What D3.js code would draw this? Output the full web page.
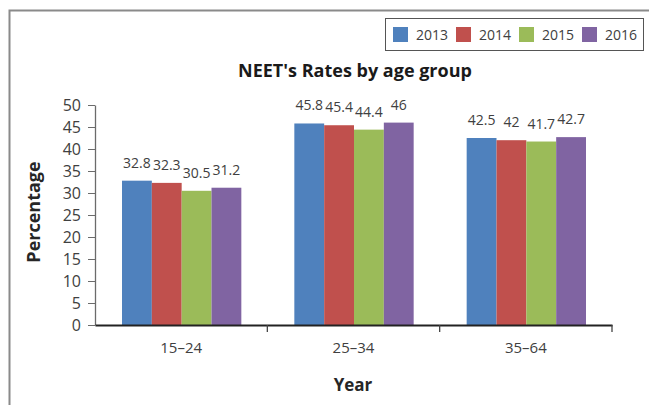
<!DOCTYPE html>
<html>
<head>
<meta charset="utf-8">
<script src="https://cdn.jsdelivr.net/npm/d3@7"></script>
<style>
  body { margin: 0; background: #fff; }
  svg { display: block; font-family: "Open Sans", sans-serif; }
</style>
</head>
<body>
<svg id="chart" width="649" height="405"></svg>
<script>
// data
const ageGroups = ['15\u201324', '25\u201334', '35\u201364'];
const years = ['2013', '2014', '2015', '2016'];
const rates2013 = [32.8, 45.8, 42.5];
const rates2014 = [32.3, 45.4, 42];
const rates2015 = [30.5, 44.4, 41.7];
const rates2016 = [31.2, 46, 42.7];
const yTicks = [0, 5, 10, 15, 20, 25, 30, 35, 40, 45, 50];

const series = [rates2013, rates2014, rates2015, rates2016];
const colors = d3.scaleOrdinal().domain(years)
    .range(['#4F81BD', '#C0504D', '#9BBB59', '#8064A2']);

const svg = d3.select('#chart');
const textColor = '#404040';
const font = '"Open Sans", sans-serif';

// outer frame (only top + left edge visible in the crop)
svg.append('path')
    .attr('d', 'M9.5 405 L9.5 10.5 L649 10.5')
    .attr('fill', 'none')
    .attr('stroke', '#8a8a8a')
    .attr('stroke-width', 2);

const x0 = d3.scaleBand().domain(ageGroups).range([95, 612]);
const x1 = d3.scaleBand().domain(years).range([27, x0.bandwidth() - 26]);
const y = d3.scaleLinear().domain([0, 50]).range([325, 105]);

// bars
const groups = svg.append('g')
  .selectAll('g')
  .data(ageGroups)
  .enter().append('g')
    .attr('transform', d => 'translate(' + x0(d) + ',0)');

const cells = (d, i) => years.map((yr, j) => ({year: yr, value: series[j][i]}));

groups.selectAll('rect')
  .data(cells)
  .enter().append('rect')
    .attr('x', d => x1(d.year))
    .attr('width', x1.bandwidth())
    .attr('y', d => y(d.value))
    .attr('height', d => y(0) - y(d.value))
    .attr('fill', d => colors(d.year));

groups.selectAll('text')
  .data(cells)
  .enter().append('text')
    .attr('x', d => x1(d.year) + x1.bandwidth() / 2)
    .attr('y', d => y(d.value) - 13)
    .attr('text-anchor', 'middle')
    .attr('fill', textColor)
    .style('font-size', '14px')
    .text(d => d.value);

// y axis
const yAxis = svg.append('g')
    .attr('transform', 'translate(95,0)')
    .call(d3.axisLeft(y).tickValues(yTicks).tickSize(7).tickSizeOuter(0).tickPadding(7));
yAxis.select('.domain').attr('stroke', '#6b6b6b').attr('stroke-width', 1.3);
yAxis.selectAll('line').attr('stroke', '#6b6b6b');
yAxis.selectAll('text').attr('fill', textColor).style('font-size', '16px').style('font-family', font);

// x axis
const xAxis = svg.append('g')
    .attr('transform', 'translate(0,325)')
    .call(d3.axisBottom(x0).tickSize(0).tickPadding(17));
xAxis.select('.domain').attr('stroke', '#222').attr('stroke-width', 2);
xAxis.selectAll('text').attr('fill', textColor).style('font-size', '15px').style('font-family', font);
xAxis.selectAll('.sep')
  .data(ageGroups)
  .enter().append('line')
    .attr('x1', d => x0(d) + x0.bandwidth())
    .attr('x2', d => x0(d) + x0.bandwidth())
    .attr('y1', 0)
    .attr('y2', 7)
    .attr('stroke', '#444')
    .attr('stroke-width', 1.3);

// title + axis titles
svg.append('text')
    .attr('x', 355).attr('y', 77)
    .attr('text-anchor', 'middle')
    .attr('fill', '#1a1a1a')
    .style('font-size', '18px').style('font-weight', 'bold')
    .text("NEET's Rates by age group");

svg.append('text')
    .attr('x', 353).attr('y', 391)
    .attr('text-anchor', 'middle')
    .attr('fill', '#262626')
    .style('font-size', '17px').style('font-weight', 'bold')
    .text('Year');

svg.append('text')
    .attr('transform', 'translate(40,212)rotate(-90)')
    .attr('text-anchor', 'middle')
    .attr('fill', '#262626')
    .style('font-size', '18px').style('font-weight', 'bold')
    .text('Percentage');

// legend
const legend = svg.append('g');
legend.append('rect')
    .attr('x', 385.5).attr('y', 18.5)
    .attr('width', 258).attr('height', 32)
    .attr('fill', '#fff')
    .attr('stroke', '#555');

const legendItems = legend.selectAll('.item')
  .data(years)
  .enter().append('g')
    .attr('transform', (d, i) => 'translate(' + (393 + i * 63) + ',27)');
legendItems.append('rect')
    .attr('width', 15).attr('height', 15)
    .attr('fill', d => colors(d));
legendItems.append('text')
    .attr('x', 23).attr('y', 13)
    .attr('fill', textColor)
    .style('font-size', '14px')
    .text(d => d);
</script>
</body>
</html>
